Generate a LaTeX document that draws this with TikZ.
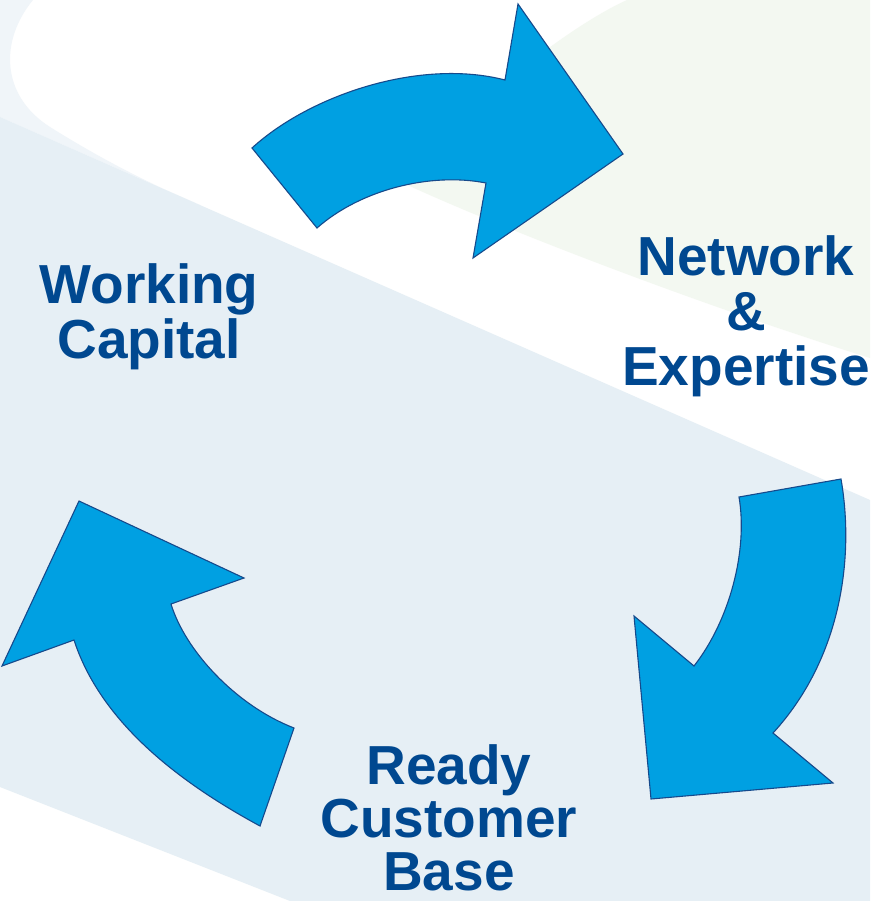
\documentclass[tikz,border=0pt]{standalone}
\usepackage{fontspec}
\setmainfont{Liberation Sans}
\usepackage{xcolor}
\usepackage{tikz}
\usetikzlibrary{calc}
\definecolor{bgblue}{RGB}{230,239,245}
\definecolor{bgpale}{RGB}{240,245,249}
\definecolor{bggreen}{RGB}{243,248,241}
\definecolor{arrowblue}{RGB}{0,160,226}
\definecolor{arrowedge}{RGB}{22,74,140}
\definecolor{textblue}{RGB}{0,72,144}
\tikzstyle{cyclearrow}=[fill=arrowblue,draw=arrowedge,line width=1.1pt,line join=miter]
\tikzstyle{steptext}=[text=textblue,font=\bfseries\fontsize{55}{55}\selectfont,align=center,inner sep=0pt]

\begin{document}
\begin{tikzpicture}[x=1pt,y=-1pt]
  \useasboundingbox (0,0) rectangle (870,901);
  \begin{scope}
    \clip (0,0) rectangle (870,901);
    % background bands
    \fill[white] (0,0) rectangle (870,901);
    \fill[bgpale] (0,0) -- (33,0) .. controls (0,40) and (0,95) .. (50,127) .. controls (90,152) and (140,180) .. (200,205) -- (0,117) -- cycle;
    \fill[bggreen] (627,0) .. controls (560,30) and (440,130) .. (403,183) .. controls (500,228) and (700,305) .. (870,358) -- (870,0) -- cycle;
    \fill[bgblue] (0,117) -- (870,500) -- (870,901) -- (290,901) -- (0,787) -- cycle;
  \end{scope}
  % the three curved arrows
  \draw[cyclearrow] (252,148) .. controls (310,95) and (420,58) .. (505,80) -- (518,4) -- (623,154) -- (473,258) -- (486,183) .. controls (430,172) and (360,190) .. (317,228) -- cycle;
  \draw[cyclearrow] (841,479) .. controls (855,560) and (840,660) .. (773,733) -- (833,783) -- (651,799) -- (634,616) -- (694,666) .. controls (730,620) and (748,550) .. (739,497) -- cycle;
  \draw[cyclearrow] (79,501) -- (244,578) -- (171,604) .. controls (185,650) and (235,705) .. (294,728) -- (260,826) .. controls (175,780) and (100,720) .. (74,640) -- (2,666) -- cycle;
  % labels
  \node[steptext] (capital) at (149,316.5) {Working\\Capital};
  \node[steptext] (network) at (746,316) {Network\\\&\\Expertise};
  \node[steptext,font=\bfseries\fontsize{55}{53}\selectfont] (customers) at (449,818) {Ready\\Customer\\Base};
\end{tikzpicture}
\end{document}
